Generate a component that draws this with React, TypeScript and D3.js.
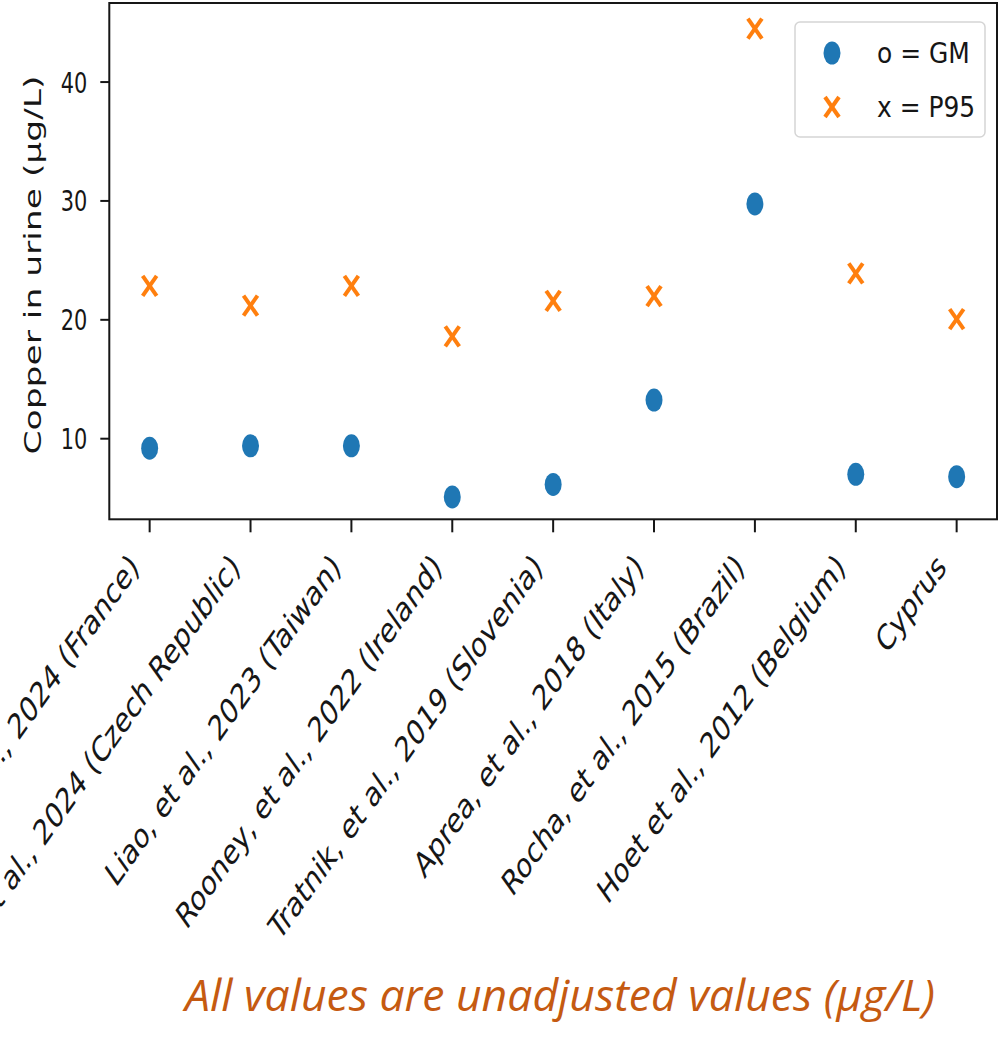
import React from "react";
import * as d3 from "d3";

// Study labels (x axis), geometric means and 95th percentiles of urinary copper (µg/L)
const categories = [
  "Fillol, et al., 2024 (France)",
  "Puklová, et al., 2024 (Czech Republic)",
  "Liao, et al., 2023 (Taiwan)",
  "Rooney, et al., 2022 (Ireland)",
  "Tratnik, et al., 2019 (Slovenia)",
  "Aprea, et al., 2018 (Italy)",
  "Rocha, et al., 2015 (Brazil)",
  "Hoet et al., 2012 (Belgium)",
  "Cyprus",
];
const gmValues = [9.2, 9.4, 9.4, 5.1, 6.15, 13.25, 29.75, 7.0, 6.8];
const p95Values = [22.85, 21.2, 22.85, 18.6, 21.6, 22.0, 44.5, 23.9, 20.05];
const yTicks = [10, 20, 30, 40];

const W = 999;
const H = 1038;
const plot = { left: 109.3, right: 997, top: 3, bottom: 519.3 };
const FONT = "'DejaVu Sans', sans-serif";
const BLUE = "#1f77b4";
const ORANGE = "#ff7f0e";
const INK = "#161616";

function Dot({ x, y }: { x: number; y: number }) {
  return <ellipse cx={x} cy={y} rx={8.5} ry={11.5} fill={BLUE} />;
}

function Cross({ x, y }: { x: number; y: number }) {
  const hw = 7;
  const hh = 10;
  return (
    <g stroke={ORANGE} strokeWidth={4} strokeLinecap="butt">
      <line x1={x - hw} y1={y - hh} x2={x + hw} y2={y + hh} />
      <line x1={x - hw} y1={y + hh} x2={x + hw} y2={y - hh} />
    </g>
  );
}

export default function App() {
  const x = d3
    .scalePoint<string>()
    .domain(categories)
    .range([plot.left, plot.right])
    .padding(0.4);
  const y = d3.scaleLinear().domain([3.22, 46.65]).range([plot.bottom, plot.top]);

  return (
    <svg
      width={W}
      height={H}
      style={{ position: "absolute", left: 0, top: 0, background: "#fff" }}
      fontFamily={FONT}
    >
      <rect x={0} y={0} width={W} height={H} fill="#fff" />

      {/* markers */}
      {categories.map((c, i) => (
        <Dot key={"gm" + i} x={x(c)!} y={y(gmValues[i])} />
      ))}
      {categories.map((c, i) => (
        <Cross key={"p" + i} x={x(c)!} y={y(p95Values[i])} />
      ))}

      {/* frame */}
      <rect
        x={plot.left}
        y={plot.top}
        width={plot.right - plot.left}
        height={plot.bottom - plot.top}
        fill="none"
        stroke={INK}
        strokeWidth={2}
      />

      {/* y axis */}
      {yTicks.map((t) => (
        <g key={t}>
          <line x1={plot.left - 9} x2={plot.left} y1={y(t)} y2={y(t)} stroke={INK} strokeWidth={2} />
          <g transform={`translate(${plot.left - 22},${y(t)}) scale(0.72,1)`}>
            <text textAnchor="end" dy="0.36em" fontSize={29} fill={INK}>
              {t}
            </text>
          </g>
        </g>
      ))}
      <g transform={`translate(41,265) scale(0.69,1) rotate(-90)`}>
        <text textAnchor="middle" fontSize={34.5} fill={INK}>
          Copper in urine (µg/L)
        </text>
      </g>

      {/* x axis */}
      {categories.map((c) => (
        <g key={c}>
          <line x1={x(c)!} x2={x(c)!} y1={plot.bottom} y2={plot.bottom + 13} stroke={INK} strokeWidth={2} />
          <g transform={`translate(${x(c)! - 9},569) scale(0.71,1) rotate(-45)`}>
            <text textAnchor="end" fontSize={35} fill={INK}>
              {c}
            </text>
          </g>
        </g>
      ))}

      {/* legend */}
      <rect x={795} y={22} width={190} height={115} rx={5} fill="#fff" fillOpacity={0.8} stroke="#d5d5d5" strokeWidth={1.5} />
      <Dot x={832} y={53} />
      <Cross x={832} y={107} />
      <g transform={`translate(877,63) scale(0.86,1)`}>
        <text fontSize={29} fill={INK}>o = GM</text>
      </g>
      <g transform={`translate(877,117) scale(0.86,1)`}>
        <text fontSize={29} fill={INK}>x = P95</text>
      </g>

      {/* footnote */}
      <text
        x={185}
        y={1011}
        fontFamily="'Open Sans', sans-serif"
        fontStyle="italic"
        fontSize={43}
        fill="#C55A11"
        textLength={750}
        lengthAdjust="spacingAndGlyphs"
      >
        All values are unadjusted values (µg/L)
      </text>
    </svg>
  );
}
